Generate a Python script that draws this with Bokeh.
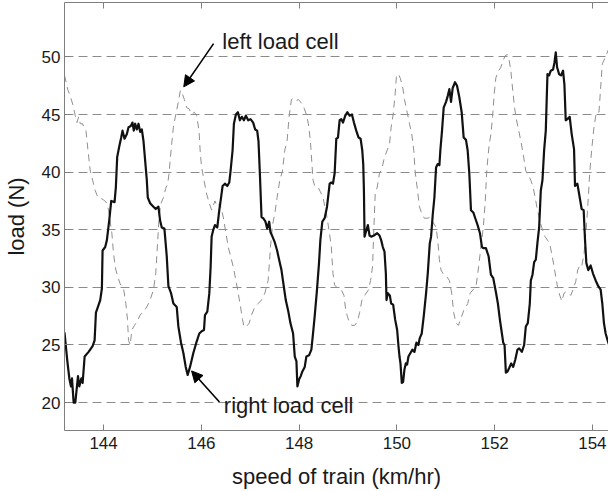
from bokeh.plotting import figure
from bokeh.models import Range1d, LinearAxis, FixedTicker, Label, Arrow, NormalHead, CustomJSTickFormatter
from bokeh.embed import file_html
from bokeh.resources import INLINE

# ---------------- data ----------------
x_ticks = [144, 146, 148, 150, 152, 154]
y_ticks = [20, 25, 30, 35, 40, 45, 50]

speed_right = [143.200, 143.258, 143.299, 143.333, 143.353, 143.387, 143.421, 143.476, 143.503, 143.544,
               143.571, 143.612, 143.693, 143.775, 143.816, 143.843, 143.884, 143.931, 143.965, 143.979,
               144.033, 144.067, 144.115, 144.156, 144.224, 144.251, 144.278, 144.319, 144.360, 144.387,
               144.428, 144.476, 144.510, 144.557, 144.591, 144.618, 144.646, 144.680, 144.714, 144.748,
               144.782, 144.816, 144.850, 144.884, 144.904, 144.952, 145.020, 145.067, 145.122, 145.156,
               145.190, 145.244, 145.292, 145.326, 145.380, 145.428, 145.496, 145.530, 145.584, 145.632,
               145.680, 145.720, 145.768, 145.836, 145.904, 145.958, 146.006, 146.054, 146.074, 146.122,
               146.163, 146.190, 146.210, 146.244, 146.278, 146.326, 146.367, 146.394, 146.435, 146.482,
               146.530, 146.571, 146.598, 146.639, 146.666, 146.707, 146.748, 146.788, 146.829, 146.870,
               146.911, 146.958, 147.006, 147.060, 147.101, 147.142, 147.169, 147.197, 147.231, 147.265,
               147.312, 147.346, 147.387, 147.414, 147.455, 147.503, 147.550, 147.591, 147.639, 147.686,
               147.727, 147.775, 147.822, 147.877, 147.911, 147.945, 147.965, 147.999, 148.033, 148.067,
               148.115, 148.149, 148.203, 148.251, 148.285, 148.319, 148.366, 148.407, 148.435, 148.475,
               148.523, 148.571, 148.625, 148.659, 148.693, 148.727, 148.761, 148.795, 148.829, 148.863,
               148.897, 148.945, 148.986, 149.033, 149.081, 149.122, 149.169, 149.217, 149.258, 149.292,
               149.312, 149.326, 149.339, 149.366, 149.407, 149.441, 149.475, 149.530, 149.598, 149.645,
               149.679, 149.713, 149.747, 149.775, 149.788, 149.815, 149.856, 149.883, 149.924, 149.965,
               150.006, 150.033, 150.054, 150.074, 150.101, 150.128, 150.156, 150.183, 150.210, 150.237,
               150.278, 150.319, 150.360, 150.400, 150.441, 150.469, 150.509, 150.550, 150.598, 150.632,
               150.673, 150.700, 150.734, 150.768, 150.802, 150.836, 150.870, 150.890, 150.924, 150.958,
               151.006, 151.040, 151.074, 151.108, 151.142, 151.190, 151.231, 151.278, 151.326, 151.367,
               151.414, 151.448, 151.482, 151.516, 151.564, 151.604, 151.652, 151.700, 151.741, 151.768,
               151.822, 151.877, 151.924, 151.972, 152.026, 152.067, 152.108, 152.149, 152.176, 152.203,
               152.230, 152.264, 152.298, 152.339, 152.380, 152.421, 152.468, 152.502, 152.557, 152.604,
               152.638, 152.679, 152.720, 152.741, 152.775, 152.809, 152.843, 152.877, 152.911, 152.945,
               152.979, 153.013, 153.047, 153.081, 153.115, 153.149, 153.196, 153.224, 153.251, 153.278,
               153.319, 153.360, 153.400, 153.428, 153.455, 153.489, 153.536, 153.577, 153.625, 153.645,
               153.693, 153.741, 153.781, 153.822, 153.850, 153.877, 153.917, 153.965, 154.013, 154.067,
               154.121, 154.169, 154.203, 154.237, 154.271, 154.326, 154.360]
load_right = [26.1, 23.6, 22.1, 21.4, 22.1, 20.0, 20.0, 22.3, 21.4, 22.1,
              21.7, 24.0, 24.4, 24.9, 25.4, 27.8, 28.3, 28.9, 29.9, 33.2,
              33.5, 34.1, 35.8, 37.5, 37.4, 38.7, 41.3, 42.2, 43.0, 43.6,
              42.9, 43.3, 43.9, 44.0, 44.3, 43.6, 44.2, 43.7, 44.2, 43.5,
              43.7, 42.7, 41.0, 39.3, 37.8, 37.3, 37.0, 36.8, 37.0, 35.8,
              35.2, 35.1, 32.7, 30.1, 29.5, 28.6, 28.3, 26.6, 25.2, 24.3,
              23.1, 22.4, 23.1, 24.3, 25.3, 26.0, 26.2, 26.3, 27.6, 27.9,
              29.5, 31.8, 34.4, 35.0, 35.4, 35.2, 36.7, 37.5, 38.8, 39.0,
              38.8, 39.1, 40.1, 41.9, 44.2, 45.0, 45.2, 44.5, 44.8, 44.5,
              44.9, 44.5, 44.6, 44.3, 43.7, 43.6, 42.7, 39.9, 36.1, 36.0,
              35.7, 35.1, 35.7, 34.8, 34.4, 33.9, 33.2, 32.4, 31.5, 30.1,
              28.9, 28.0, 26.9, 26.0, 24.0, 23.6, 21.4, 22.0, 22.3, 22.7,
              23.1, 24.0, 24.1, 24.6, 26.0, 27.5, 29.8, 32.1, 34.1, 35.7,
              36.0, 37.0, 39.0, 39.1, 39.0, 39.9, 42.9, 43.0, 44.5, 44.6,
              44.3, 44.9, 45.2, 44.9, 45.0, 44.3, 43.6, 43.0, 42.9, 41.9,
              40.7, 38.4, 34.4, 34.8, 35.4, 34.5, 34.4, 34.5, 34.7, 34.5,
              34.1, 33.5, 33.1, 31.2, 28.9, 29.5, 29.3, 28.6, 28.5, 27.2,
              26.3, 24.9, 24.0, 23.4, 21.7, 21.8, 22.9, 23.4, 23.3, 24.0,
              24.3, 24.6, 24.4, 25.2, 25.0, 25.6, 26.0, 27.5, 29.5, 31.2,
              33.8, 34.4, 36.3, 37.8, 40.4, 40.7, 40.6, 41.9, 43.6, 45.6,
              46.1, 46.6, 47.2, 46.1, 47.3, 47.8, 47.5, 46.5, 45.2, 43.0,
              42.8, 41.9, 39.9, 36.7, 36.5, 36.0, 35.4, 34.7, 33.5, 33.4,
              33.4, 32.7, 31.1, 30.8, 29.6, 28.6, 27.2, 26.0, 25.2, 25.0,
              22.6, 22.7, 23.0, 23.4, 23.1, 23.7, 24.6, 24.7, 24.4, 25.0,
              26.6, 26.9, 28.6, 30.6, 31.1, 32.2, 32.4, 33.9, 35.2, 38.4,
              39.3, 41.9, 43.6, 48.5, 48.4, 48.8, 48.9, 49.5, 50.4, 49.1,
              48.5, 48.4, 48.8, 47.6, 44.5, 44.6, 44.8, 43.3, 42.0, 38.8,
              39.0, 37.8, 36.8, 36.7, 34.1, 32.1, 31.5, 31.9, 31.2, 30.6,
              30.1, 29.8, 28.6, 26.9, 26.0, 25.2, 24.8]

speed_left = [143.200, 143.271, 143.319, 143.367, 143.421, 143.455, 143.489, 143.523, 143.571, 143.612,
              143.639, 143.680, 143.727, 143.775, 143.829, 143.884, 143.952, 143.999, 144.067, 144.101,
              144.169, 144.203, 144.251, 144.292, 144.339, 144.408, 144.455, 144.489, 144.510, 144.544,
              144.578, 144.632, 144.680, 144.748, 144.816, 144.884, 144.952, 145.020, 145.067, 145.108,
              145.135, 145.176, 145.224, 145.271, 145.312, 145.339, 145.380, 145.428, 145.476, 145.530,
              145.571, 145.612, 145.652, 145.700, 145.748, 145.802, 145.857, 145.904, 145.952, 145.979,
              146.006, 146.054, 146.108, 146.163, 146.210, 146.278, 146.326, 146.380, 146.448, 146.503,
              146.550, 146.598, 146.652, 146.707, 146.754, 146.802, 146.843, 146.870, 146.924, 146.979,
              147.026, 147.094, 147.162, 147.231, 147.299, 147.367, 147.414, 147.455, 147.503, 147.550,
              147.605, 147.659, 147.707, 147.754, 147.795, 147.843, 147.890, 147.945, 147.986, 148.026,
              148.081, 148.149, 148.190, 148.231, 148.285, 148.319, 148.387, 148.435, 148.489, 148.557,
              148.611, 148.659, 148.693, 148.727, 148.795, 148.863, 148.918, 148.945, 148.986, 149.033,
              149.081, 149.135, 149.190, 149.237, 149.285, 149.326, 149.373, 149.421, 149.462, 149.503,
              149.530, 149.557, 149.598, 149.645, 149.693, 149.747, 149.802, 149.849, 149.883, 149.924,
              149.965, 149.992, 150.033, 150.074, 150.122, 150.156, 150.210, 150.258, 150.305, 150.346,
              150.373, 150.414, 150.462, 150.509, 150.564, 150.632, 150.686, 150.734, 150.802, 150.836,
              150.870, 150.904, 150.958, 151.026, 151.074, 151.122, 151.163, 151.210, 151.258, 151.312,
              151.367, 151.414, 151.450, 151.500, 151.560, 151.620, 151.673, 151.720, 151.768, 151.809,
              151.836, 151.863, 151.890, 151.924, 151.958, 151.992, 152.026, 152.081, 152.128, 152.176,
              152.217, 152.258, 152.298, 152.332, 152.366, 152.400, 152.434, 152.489, 152.536, 152.584,
              152.638, 152.693, 152.741, 152.788, 152.829, 152.877, 152.924, 152.979, 153.033, 153.081,
              153.128, 153.169, 153.217, 153.251, 153.285, 153.319, 153.374, 153.421, 153.455, 153.510,
              153.557, 153.605, 153.659, 153.700, 153.741, 153.781, 153.829, 153.877, 153.917, 153.945,
              153.985, 154.033, 154.081, 154.135, 154.169, 154.203, 154.258, 154.326, 154.360]
load_left = [48.4, 47.1, 46.6, 45.9, 44.9, 44.3, 44.8, 44.2, 44.2, 43.7,
             43.6, 41.9, 40.1, 39.3, 38.4, 37.8, 37.7, 37.6, 37.3, 36.7,
             34.7, 32.9, 31.5, 30.9, 30.3, 29.9, 28.6, 27.2, 25.4, 25.0,
             26.3, 26.7, 27.0, 27.6, 27.9, 28.3, 28.9, 29.8, 31.2, 34.1,
             36.1, 37.3, 37.8, 38.6, 39.0, 39.9, 41.9, 43.9, 45.0, 46.1,
             47.1, 46.8, 46.3, 45.6, 45.5, 45.0, 45.2, 44.9, 43.6, 41.6,
             40.4, 39.3, 38.1, 37.3, 36.7, 37.5, 37.0, 37.3, 36.1, 34.7,
             33.5, 32.7, 31.8, 30.6, 29.5, 28.3, 27.2, 26.6, 26.6, 26.9,
             27.6, 28.3, 28.6, 28.9, 29.5, 30.6, 33.5, 35.4, 36.4, 37.8,
             39.3, 40.1, 41.9, 42.7, 44.8, 46.3, 46.4, 46.2, 46.3, 46.1,
             45.8, 45.0, 44.2, 42.7, 39.3, 38.8, 38.7, 38.3, 37.8, 36.4,
             35.0, 33.5, 31.2, 30.2, 29.9, 29.8, 29.3, 28.3, 27.5, 26.9,
             26.7, 26.7, 27.0, 27.8, 28.9, 29.2, 29.5, 29.8, 30.6, 31.8,
             35.2, 38.1, 38.7, 39.9, 40.3, 41.3, 41.9, 42.4, 43.9, 45.0,
             46.8, 48.4, 48.5, 48.1, 47.3, 46.3, 45.2, 44.2, 43.3, 41.9,
             40.1, 38.7, 37.0, 36.4, 36.0, 36.0, 36.1, 35.7, 35.2, 34.1,
             32.4, 31.5, 31.1, 30.9, 30.6, 29.5, 27.8, 26.9, 26.7, 27.3,
             28.0, 28.3, 28.6, 29.5, 29.8, 30.1, 31.8, 33.5, 35.2, 37.5,
             39.9, 41.3, 42.4, 43.3, 44.8, 46.8, 48.2, 48.8, 49.1, 49.7,
             50.1, 50.2, 49.7, 48.8, 47.3, 45.9, 44.8, 43.7, 42.7, 41.6,
             40.1, 39.7, 39.3, 38.7, 37.8, 36.7, 35.8, 35.0, 34.4, 34.1,
             33.8, 32.9, 31.8, 30.9, 30.1, 29.5, 28.8, 29.5, 29.6, 29.5,
             29.3, 29.8, 30.5, 31.5, 31.9, 31.8, 32.9, 35.2, 37.8, 39.9,
             41.9, 43.9, 45.2, 45.2, 47.3, 49.4, 49.9, 50.6, 51.0]

# annotation anchors (data units)
left_label_pos = (146.43, 51.3)
left_arrow = (146.25, 51.15, 145.64, 47.4)
right_label_pos = (146.46, 19.75)
right_arrow = (146.37, 20.05, 145.80, 22.75)

FONT = "Liberation Sans"
AXIS_GRAY = "#7f7f7f"
TEXT = "#1a1a1a"

p = figure(width=608, height=491, output_backend="svg", toolbar_location=None,
           x_range=Range1d(143.2, 154.33), y_range=Range1d(17.58, 54.72),
           min_border_left=62, min_border_right=0, min_border_top=2, min_border_bottom=59)
p.outline_line_color = None
p.background_fill_color = "white"
p.border_fill_color = "white"

# bottom / left axes
xa = p.below[0]
ya = p.left[0]
xa.ticker = FixedTicker(ticks=x_ticks)
ya.ticker = FixedTicker(ticks=y_ticks)
for ax in (xa, ya):
    ax.axis_line_color = AXIS_GRAY
    ax.major_tick_line_color = AXIS_GRAY
    ax.major_tick_in = 6
    ax.major_tick_out = 0
    ax.minor_tick_line_color = None
    ax.major_label_text_font = FONT
    ax.major_label_text_font_size = "17px"
    ax.major_label_text_color = TEXT
    ax.axis_label_text_font = FONT
    ax.axis_label_text_font_size = "22px"
    ax.axis_label_text_font_style = "normal"
    ax.axis_label_text_color = TEXT
xa.major_label_standoff = 6
ya.major_label_standoff = 4
xa.axis_label = "speed of train (km/hr)"
ya.axis_label = "load (N)"
xa.axis_label_standoff = 12
ya.axis_label_standoff = 10

# top axis: ticks only
top = LinearAxis(ticker=FixedTicker(ticks=x_ticks),
                 formatter=CustomJSTickFormatter(code="return ''"),
                 major_label_text_font_size="0px", major_label_standoff=0,
                 major_tick_in=6, major_tick_out=0,
                 axis_line_color=AXIS_GRAY, major_tick_line_color=AXIS_GRAY,
                 minor_tick_line_color=None)
p.add_layout(top, "above")

# grid
p.xgrid.visible = False
p.ygrid.ticker = FixedTicker(ticks=y_ticks)
p.ygrid.grid_line_color = "#8c8c8c"
p.ygrid.grid_line_dash = "9 5"
p.ygrid.grid_line_width = 1

# series
p.line(speed_left, load_left, line_color="#8f8f8f", line_width=1, line_dash="7 5")
p.line(speed_right, load_right, line_color="#111111", line_width=2.2, line_join="round")

# annotations
p.add_layout(Label(x=left_label_pos[0], y=left_label_pos[1], text="left load cell",
                   text_font=FONT, text_font_size="22px", text_color=TEXT,
                   text_baseline="middle", text_align="left"))
p.add_layout(Label(x=right_label_pos[0], y=right_label_pos[1], text="right load cell",
                   text_font=FONT, text_font_size="22px", text_color=TEXT,
                   text_baseline="middle", text_align="left"))
for (xs, ys, xe, ye) in (left_arrow, right_arrow):
    p.add_layout(Arrow(end=NormalHead(size=11, fill_color="black", line_color="black"),
                       x_start=xs, y_start=ys, x_end=xe, y_end=ye,
                       line_color="black", line_width=1.6))

open("out.html", "w").write(file_html(p, INLINE))
